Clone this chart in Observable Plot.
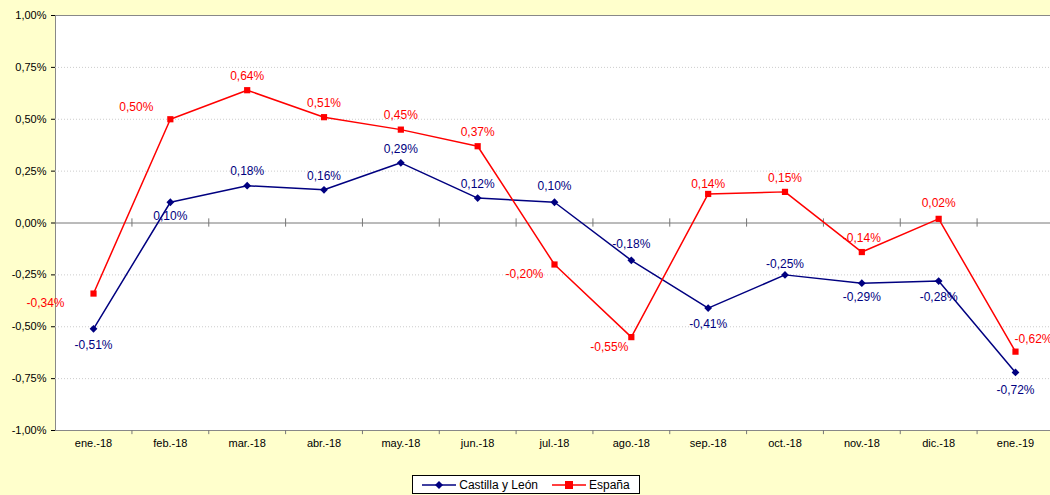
<!DOCTYPE html>
<html><head><meta charset="utf-8">
<script src="https://cdn.jsdelivr.net/npm/d3@7"></script>
<script src="https://cdn.jsdelivr.net/npm/@observablehq/plot@0.6"></script>
<style>
body{margin:0;background:#ffffcc;font-family:"Liberation Sans",Arial,sans-serif;overflow:hidden;}
#chart{width:1050px;height:495px;position:relative;}
.legend{position:absolute;left:412px;top:475px;width:228px;height:19px;border:1px solid #000;background:#fff;
 font-size:12px;display:flex;align-items:center;justify-content:center;gap:14px;box-sizing:border-box;}
.legend span{display:flex;align-items:center;gap:3px;}
</style></head><body>
<div id="chart"></div>
<script>
const months = ["ene.-18","feb.-18","mar.-18","abr.-18","may.-18","jun.-18","jul.-18","ago.-18","sep.-18","oct.-18","nov.-18","dic.-18","ene.-19"];
const castilla = [-0.51,0.10,0.18,0.16,0.29,0.12,0.10,-0.18,-0.41,-0.25,-0.29,-0.28,-0.72];
const espana = [-0.34,0.50,0.64,0.51,0.45,0.37,-0.20,-0.55,0.14,0.15,-0.14,0.02,-0.62];
const yTicks = [-1,-0.75,-0.5,-0.25,0,0.25,0.5,0.75,1];

const fmt = v => d3.format(".2f")(v).replace(".", ",").replace("−", "-") + "%";
const cyl = months.map((m,i)=>({m, v:castilla[i]}));
const esp = months.map((m,i)=>({m, v:espana[i]}));
// label placement (dx, dy)
const cylOff = [[0,16],[0,14],[0,-14],[0,-14],[0,-14],[0,-14],[0,-16],[0,-16],[0,16],[0,-11],[0,14],[0,16],[0,18]];
const espOff = [[-48,10],[-34,-12],[0,-14],[0,-14],[0,-14],[0,-14],[-30,10],[-22,10],[0,-10],[0,-14],[0,-14],[0,-16],[18,-12]];

const plot = Plot.plot({
  width:1050, height:460,
  marginLeft:55, marginRight:0, marginTop:15, marginBottom:30,
  style:{background:"transparent", fontFamily:"Liberation Sans, Arial, sans-serif", fontSize:"11px", overflow:"visible"},
  x:{type:"band", domain:months, padding:0, round:false, range:[54.6,1053.4], label:null, tickSize:0},
  y:{type:"linear", domain:[-1,1], ticks:yTicks, tickFormat:fmt, label:null, tickSize:4},
  marks:[
    Plot.frame({fill:"white", stroke:"#888"}),
    Plot.ruleY(yTicks.filter(t=>t!==0 && Math.abs(t)!==1), {stroke:"#ccc", strokeDasharray:"1,2"}),
    Plot.ruleY([0], {stroke:"#777"}),
    Plot.ruleX(months.slice(1), {x:d=>d, y1:-0.02, y2:0.02, dx:-38.4, stroke:"#777"}),
    Plot.ruleX(months.slice(1), {x:d=>d, y1:-1, y2:-1.02, dx:-38.4, stroke:"#777", clip:false}),
    Plot.line(cyl, {x:"m", y:"v", stroke:"#000080", strokeWidth:1.5}),
    Plot.dot(cyl, {x:"m", y:"v", fill:"#000080", r:3.5, symbol:"diamond2"}),
    Plot.line(esp, {x:"m", y:"v", stroke:"#ff0000", strokeWidth:1.5}),
    Plot.dot(esp, {x:"m", y:"v", fill:"#ff0000", r:3.5, symbol:"square"}),
    ...cyl.map((d,i)=>Plot.text([d],{x:"m",y:"v",text:d=>fmt(d.v),fill:"#000080",fontSize:12,dx:cylOff[i][0],dy:cylOff[i][1]})),
    ...esp.map((d,i)=>Plot.text([d],{x:"m",y:"v",text:d=>fmt(d.v),fill:"#ff0000",fontSize:12,dx:espOff[i][0],dy:espOff[i][1]}))
  ]
});
document.querySelector("#chart").append(plot);
const lg = document.createElement("div");
lg.className="legend";
lg.innerHTML = `<span><svg width="34" height="10"><line x1="0" y1="5" x2="34" y2="5" stroke="#000080" stroke-width="1.5"/><path d="M17 1L21 5L17 9L13 5Z" fill="#000080"/></svg>Castilla y León</span>
<span><svg width="34" height="10"><line x1="0" y1="5" x2="34" y2="5" stroke="#f00" stroke-width="1.5"/><rect x="13" y="1" width="8" height="8" fill="#f00"/></svg>España</span>`;
document.querySelector("#chart").append(lg);
</script></body></html>
